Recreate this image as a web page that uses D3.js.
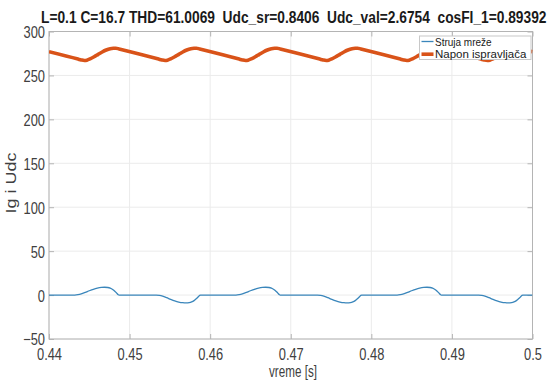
<!DOCTYPE html>
<html><head><meta charset="utf-8">
<script src="https://cdn.jsdelivr.net/npm/d3@7"></script>
<style>
html,body{margin:0;padding:0;background:#fff;}
svg{display:block;font-family:"Liberation Sans",Arial,sans-serif;}
</style></head>
<body>
<svg id="c" width="555" height="384"></svg>
<script>
// ---------- data ----------
const titleText = "L=0.1 C=16.7 THD=61.0069  Udc_sr=0.8406  Udc_val=2.6754  cosFI_1=0.89392";
const xLabel = "vreme [s]";
const yLabel = "Ig i Udc";
const seriesNames = ["Struja mreže", "Napon ispravljača"];
const xTicks = [0.44, 0.45, 0.46, 0.47, 0.48, 0.49, 0.5];
const xTickLabels = ["0.44", "0.45", "0.46", "0.47", "0.48", "0.49", "0.5"];
const yTicks = [-50, 0, 50, 100, 150, 200, 250, 300];

// Struja mreže (mains current)
const timeI = [
  0.4400, 0.4432, 0.4436, 0.4440, 0.4445, 0.4450, 0.4455, 0.4460, 0.4465, 0.4469, 0.4473, 0.4476, 0.4479, 0.4482, 0.4484, 0.4486, 0.4487,
  0.4533, 0.4537, 0.4541, 0.4546, 0.4551, 0.4556, 0.4561, 0.4566, 0.4570, 0.4574, 0.4577, 0.4580, 0.4583, 0.4585, 0.4587, 0.4588,
  0.4632, 0.4636, 0.4640, 0.4645, 0.4650, 0.4655, 0.4660, 0.4665, 0.4669, 0.4673, 0.4676, 0.4679, 0.4682, 0.4684, 0.4686, 0.4687,
  0.4733, 0.4737, 0.4741, 0.4746, 0.4751, 0.4756, 0.4761, 0.4766, 0.4770, 0.4774, 0.4777, 0.4780, 0.4783, 0.4785, 0.4787, 0.4788,
  0.4832, 0.4836, 0.4840, 0.4845, 0.4850, 0.4855, 0.4860, 0.4865, 0.4869, 0.4873, 0.4876, 0.4879, 0.4882, 0.4884, 0.4886, 0.4887,
  0.4933, 0.4937, 0.4941, 0.4946, 0.4951, 0.4956, 0.4961, 0.4966, 0.4970, 0.4974, 0.4977, 0.4980, 0.4983, 0.4985, 0.4987, 0.4988,
  0.5000
];
const strujaMreze = [
  0, 0, 0.4, 1.3, 3.0, 4.9, 6.6, 7.9, 8.7, 8.9, 8.6, 7.8, 6.3, 4.0, 2.2, 0.3, 0,
  0, -0.4, -1.3, -3.0, -4.9, -6.6, -7.9, -8.7, -8.9, -8.6, -7.8, -6.3, -4.0, -2.2, -0.3, 0,
  0, 0.4, 1.3, 3.0, 4.9, 6.6, 7.9, 8.7, 8.9, 8.6, 7.8, 6.3, 4.0, 2.2, 0.3, 0,
  0, -0.4, -1.3, -3.0, -4.9, -6.6, -7.9, -8.7, -8.9, -8.6, -7.8, -6.3, -4.0, -2.2, -0.3, 0,
  0, 0.4, 1.3, 3.0, 4.9, 6.6, 7.9, 8.7, 8.9, 8.6, 7.8, 6.3, 4.0, 2.2, 0.3, 0,
  0, -0.4, -1.3, -3.0, -4.9, -6.6, -7.9, -8.7, -8.9, -8.6, -7.8, -6.3, -4.0, -2.2, -0.3, 0,
  0
];

// Napon ispravljača (rectifier voltage)
const timeU = [
  0.4400,
  0.4436, 0.4440, 0.4444, 0.4447, 0.4451, 0.4456, 0.4461, 0.4466, 0.4471, 0.4476, 0.4480, 0.4483, 0.4487,
  0.4536, 0.4540, 0.4544, 0.4547, 0.4551, 0.4556, 0.4561, 0.4566, 0.4571, 0.4576, 0.4580, 0.4583, 0.4587,
  0.4636, 0.4640, 0.4644, 0.4647, 0.4651, 0.4656, 0.4661, 0.4666, 0.4671, 0.4676, 0.4680, 0.4683, 0.4687,
  0.4736, 0.4740, 0.4744, 0.4747, 0.4751, 0.4756, 0.4761, 0.4766, 0.4771, 0.4776, 0.4780, 0.4783, 0.4787,
  0.4836, 0.4840, 0.4844, 0.4847, 0.4851, 0.4856, 0.4861, 0.4866, 0.4871, 0.4876, 0.4880, 0.4883, 0.4887,
  0.4936, 0.4940, 0.4944, 0.4947, 0.4951, 0.4956, 0.4961, 0.4966, 0.4971, 0.4976, 0.4980, 0.4983, 0.4987,
  0.5000
];
const naponIspravljaca = [
  277.0,
  268.6, 267.6, 267.0, 267.4, 268.8, 271.2, 274.0, 276.7, 278.9, 280.4, 280.9, 281.0, 280.1,
  268.6, 267.6, 267.0, 267.4, 268.8, 271.2, 274.0, 276.7, 278.9, 280.4, 280.9, 281.0, 280.1,
  268.6, 267.6, 267.0, 267.4, 268.8, 271.2, 274.0, 276.7, 278.9, 280.4, 280.9, 281.0, 280.1,
  268.6, 267.6, 267.0, 267.4, 268.8, 271.2, 274.0, 276.7, 278.9, 280.4, 280.9, 281.0, 280.1,
  268.6, 267.6, 267.0, 267.4, 268.8, 271.2, 274.0, 276.7, 278.9, 280.4, 280.9, 281.0, 280.1,
  268.6, 267.6, 267.0, 267.4, 268.8, 271.2, 274.0, 276.7, 278.9, 280.4, 280.9, 281.0, 280.1,
  277.0
];

// ---------- drawing ----------
const svg = d3.select("#c");
const L = 49, R = 532.5, T = 31.5, B = 339;
const SX = 0.78; // horizontal squeeze of the original figure text
const x = d3.scaleLinear().domain([0.44, 0.5]).range([L, R]);
const y = d3.scaleLinear().domain([-50, 300]).range([B, T]);

const colI = "#3a86bb", colU = "#d95319";
const gridCol = "#ebebeb", axCol = "#b4b4b4", txtCol = "#404040";

// helper: text squeezed horizontally to a given width
function fitText(sel, x0, y0, width, sy = 1) {
  const w = sel.node().getComputedTextLength();
  sel.attr("x", null).attr("y", null)
     .attr("transform", `translate(${x0},${y0}) scale(${width / w},${sy})`);
  return sel;
}

// grid
svg.append("g").selectAll("line").data(xTicks).join("line")
  .attr("x1", d => x(d)).attr("x2", d => x(d)).attr("y1", T).attr("y2", B)
  .attr("stroke", gridCol).attr("stroke-width", 1);
svg.append("g").selectAll("line").data(yTicks).join("line")
  .attr("y1", d => y(d)).attr("y2", d => y(d)).attr("x1", L).attr("x2", R)
  .attr("stroke", gridCol).attr("stroke-width", 1);

// box
svg.append("rect").attr("x", L).attr("y", T).attr("width", R - L).attr("height", B - T)
  .attr("fill", "none").attr("stroke", axCol).attr("stroke-width", 1);

// axes (inward ticks)
const ax = svg.append("g").attr("transform", `translate(0,${B})`)
  .call(d3.axisBottom(x).tickValues(xTicks).tickFormat((d, i) => xTickLabels[i])
        .tickSizeInner(-5).tickSizeOuter(0).tickPadding(0));
const ay = svg.append("g").attr("transform", `translate(${L},0)`)
  .call(d3.axisLeft(y).tickValues(yTicks).tickFormat(d3.format("d"))
        .tickSizeInner(-5).tickSizeOuter(0).tickPadding(0));
// mirrored ticks top/right
svg.append("g").attr("transform", `translate(0,${T})`)
  .call(d3.axisTop(x).tickValues(xTicks).tickFormat("").tickSizeInner(-5).tickSizeOuter(0));
svg.append("g").attr("transform", `translate(${R},0)`)
  .call(d3.axisRight(y).tickValues(yTicks).tickFormat("").tickSizeInner(-5).tickSizeOuter(0));
svg.selectAll(".domain").remove();
svg.selectAll(".tick line").attr("stroke", axCol);

ax.selectAll("text").attr("font-size", 16.5).attr("fill", txtCol).attr("dy", null)
  .attr("y", null).attr("transform", `translate(0,20.5) scale(${SX},1)`);
ay.selectAll("text").attr("font-size", 16.5).attr("fill", txtCol).attr("x", null)
  .attr("dy", "0.36em").attr("transform", `translate(-4,0) scale(${SX},1)`);

// lines
svg.append("clipPath").attr("id", "clp").append("rect")
  .attr("x", L).attr("y", T).attr("width", R - L).attr("height", B - T);
const lineGen = d3.line().x(d => x(d[0])).y(d => y(d[1])).curve(d3.curveMonotoneX);
svg.append("path").datum(timeI.map((t, i) => [t, strujaMreze[i]]))
  .attr("d", lineGen).attr("fill", "none").attr("stroke", colI).attr("stroke-width", 1.3)
  .attr("clip-path", "url(#clp)");
svg.append("path").datum(timeU.map((t, i) => [t, naponIspravljaca[i]]))
  .attr("d", lineGen).attr("fill", "none").attr("stroke", colU).attr("stroke-width", 3.6)
  .attr("stroke-linejoin", "round").attr("clip-path", "url(#clp)");

// title
fitText(svg.append("text").attr("font-size", 17).attr("font-weight", "bold")
  .attr("fill", "#1a1a1a").style("white-space", "pre").text(titleText), 41, 23, 506);

// axis labels
fitText(svg.append("text").attr("font-size", 16).attr("fill", txtCol).text(xLabel), 269, 377, 48);
svg.append("text").attr("transform", `translate(16,183) rotate(-90) scale(1,${SX})`)
  .attr("text-anchor", "middle").attr("font-size", 18).attr("fill", txtCol).text(yLabel);

// legend
const lg = svg.append("g");
lg.append("rect").attr("x", 419.5).attr("y", 36).attr("width", 111.5).attr("height", 23.5)
  .attr("fill", "#fff").attr("stroke", "#c8c8c8").attr("stroke-width", 1);
const legendRows = [{name: seriesNames[0], col: colI, w: 1.3, len: 56.7, yy: 41.5},
                    {name: seriesNames[1], col: colU, w: 3.6, len: 91.5, yy: 54.2}];
legendRows.forEach(r => {
  lg.append("line").attr("x1", 421.5).attr("x2", 433.5).attr("y1", r.yy).attr("y2", r.yy)
    .attr("stroke", r.col).attr("stroke-width", r.w);
  fitText(lg.append("text").attr("dy", "0.36em").attr("font-size", 12.8)
    .attr("fill", "#1a1a1a").text(r.name), 435, r.yy, r.len, 0.9);
});
</script>
</body></html>
